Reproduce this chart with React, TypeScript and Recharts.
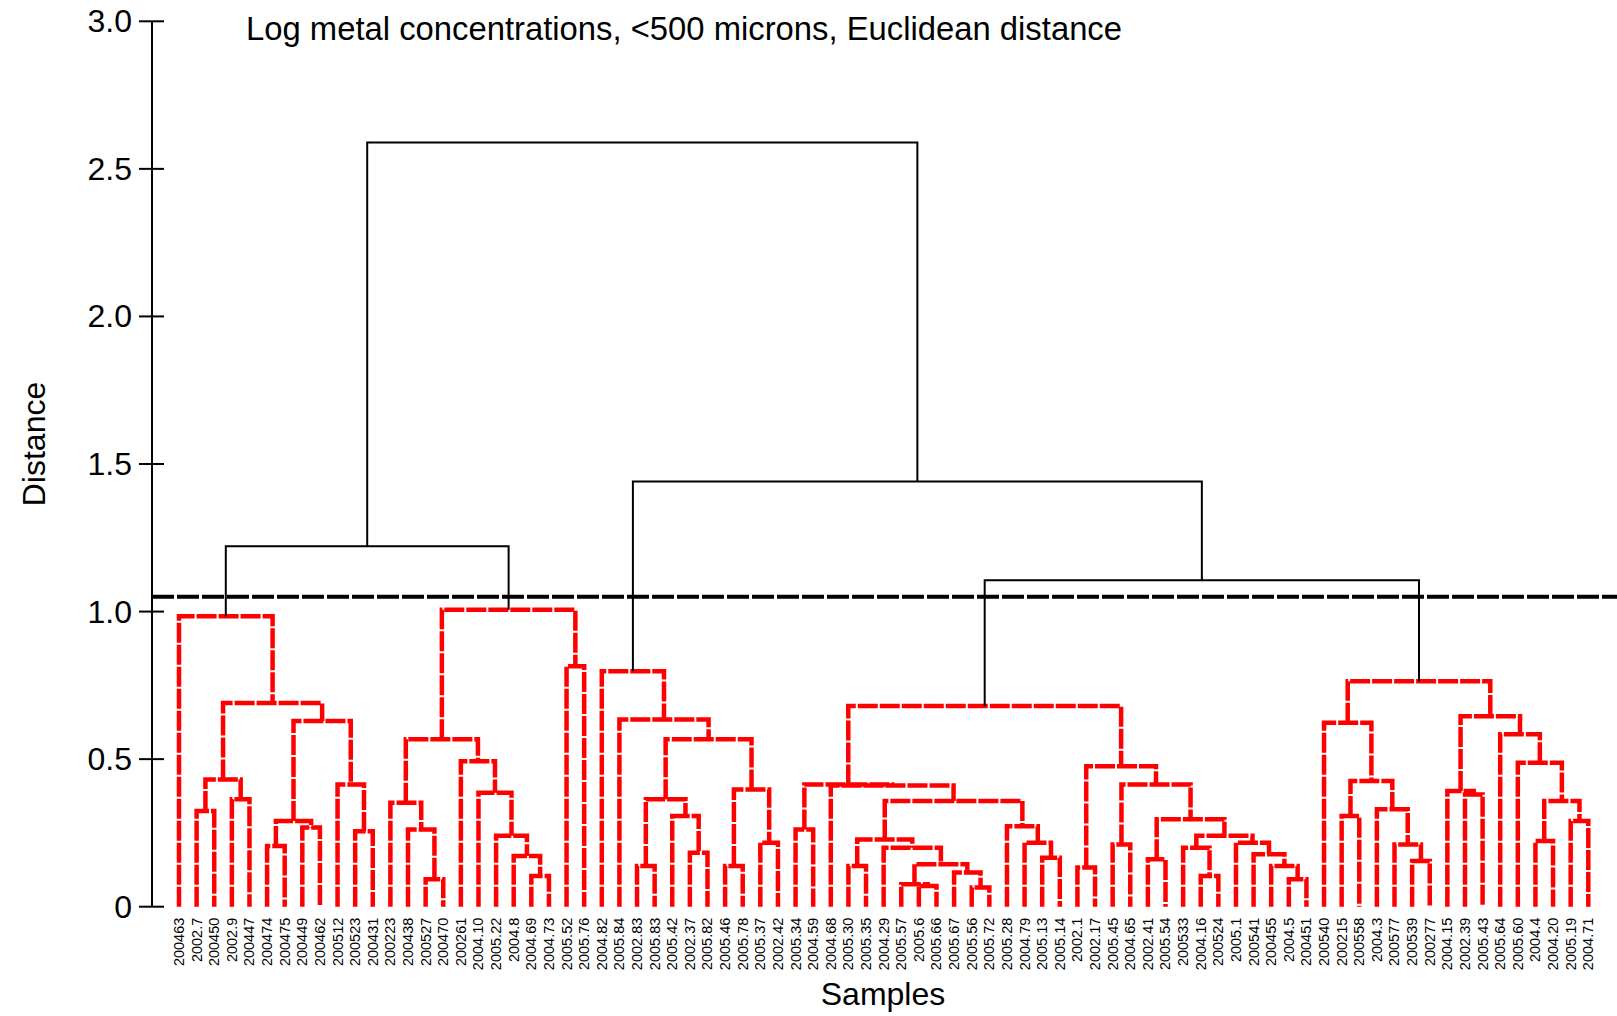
import { Line, LineChart, ReferenceLine, XAxis, YAxis } from "recharts";

// Sample ids along the bottom, in dendrogram leaf order
const leafLabels = [
  "200463", "2002.7", "200450", "2002.9", "200447", "200474", "200475", "200449",
  "200462", "200512", "200523", "200431", "200223", "200438", "200527", "200470",
  "200261", "2004.10", "2005.22", "2004.8", "2004.69", "2004.73", "2005.52", "2005.76",
  "2004.82", "2005.84", "2002.83", "2005.83", "2005.42", "2002.37", "2005.82", "2005.46",
  "2005.78", "2005.37", "2002.42", "2005.34", "2004.59", "2004.68", "2005.30", "2005.35",
  "2004.29", "2005.57", "2005.6", "2005.66", "2005.67", "2005.56", "2005.72", "2005.28",
  "2004.79", "2005.13", "2005.14", "2002.1", "2002.17", "2005.45", "2004.65", "2002.41",
  "2005.54", "200533", "2004.16", "200524", "2005.1", "200541", "200455", "2004.5",
  "200451", "200540", "200215", "200558", "2004.3", "200577", "200539", "200277",
  "2004.15", "2002.39", "2005.43", "2005.64", "2005.60", "2004.4", "2004.20", "2005.19",
  "2004.71",
];

// Linkage: [left, right, distance]. Ids below 81 are leaves, id 81 + k is merge k.
const merges: [number, number, number][] = [
  [1, 2, 0.324], [3, 4, 0.364], [81, 82, 0.431], [5, 6, 0.206], [7, 8, 0.268],
  [84, 85, 0.29], [10, 11, 0.256], [9, 87, 0.414], [86, 88, 0.629], [83, 89, 0.69],
  [0, 90, 0.984],
  [14, 15, 0.093], [13, 92, 0.262], [12, 93, 0.352], [20, 21, 0.104], [19, 95, 0.172],
  [18, 96, 0.24], [17, 97, 0.386], [16, 98, 0.493], [94, 99, 0.567], [22, 23, 0.815],
  [100, 101, 1.006], [91, 102, 1.221],
  [26, 27, 0.138], [29, 30, 0.183], [28, 105, 0.307], [104, 106, 0.364], [31, 32, 0.138],
  [33, 34, 0.217], [108, 109, 0.397], [107, 110, 0.567], [25, 111, 0.634], [24, 112, 0.798],
  [35, 36, 0.262], [38, 39, 0.138], [42, 43, 0.07], [41, 116, 0.076], [45, 46, 0.065],
  [44, 118, 0.116], [117, 119, 0.144], [40, 120, 0.2], [115, 121, 0.228], [49, 50, 0.166],
  [48, 123, 0.217], [47, 124, 0.273], [122, 125, 0.358], [37, 126, 0.411], [114, 127, 0.414],
  [51, 52, 0.133], [53, 54, 0.211], [55, 56, 0.161], [58, 59, 0.104], [57, 132, 0.2],
  [63, 64, 0.093], [62, 134, 0.138], [61, 135, 0.178], [60, 136, 0.217], [133, 137, 0.24],
  [131, 138, 0.296], [130, 139, 0.414], [129, 140, 0.476], [128, 141, 0.68],
  [66, 67, 0.307], [70, 71, 0.155], [69, 144, 0.211], [68, 145, 0.33], [143, 146, 0.426],
  [65, 147, 0.623], [73, 74, 0.38], [72, 149, 0.392], [77, 78, 0.223], [79, 80, 0.29],
  [151, 152, 0.358], [76, 153, 0.488], [75, 154, 0.584], [150, 155, 0.645], [148, 156, 0.764],
  [142, 157, 1.106], [113, 158, 1.441], [103, 159, 2.589],
];

const cutDistance = 1.05;
const yTicks = [0, 0.5, 1, 1.5, 2, 2.5, 3];
const yTickLabels = ["0", "0.5", "1.0", "1.5", "2.0", "2.5", "3.0"];

type Pt = { x: number; y: number | null };

// Walk the linkage and turn each merge into a U-shaped polyline;
// a null point breaks the line between merges.
function buildLinks() {
  const pos = leafLabels.map((_, i) => i);
  const dist = leafLabels.map(() => 0);
  const below: Pt[] = [];
  const above: Pt[] = [];
  for (const [a, b, h] of merges) {
    const xa = pos[a];
    const xb = pos[b];
    const seg: Pt[] = [
      { x: xa, y: dist[a] },
      { x: xa, y: h },
      { x: xb, y: h },
      { x: xb, y: dist[b] },
      { x: xb, y: null },
    ];
    (h < cutDistance ? below : above).push(...seg);
    pos.push((xa + xb) / 2);
    dist.push(h);
  }
  return { below, above };
}

const { below, above } = buildLinks();
const leafTicks = leafLabels.map((_, i) => i);

const FONT = "'Liberation Sans', Arial, sans-serif";

function LeafTick({ x, y, payload }: any) {
  const ty = y + 11;
  return (
    <text
      x={x}
      y={ty}
      transform={`rotate(-90, ${x}, ${ty})`}
      textAnchor="end"
      dominantBaseline="central"
      fontSize={14.5}
      fill="#000"
    >
      {leafLabels[payload.value]}
    </text>
  );
}

function DistanceTick({ x, y, payload }: any) {
  const idx = yTicks.indexOf(payload.value);
  return (
    <g>
      <line x1={x - 13} x2={x + 12} y1={y} y2={y} stroke="#000" strokeWidth={2} />
      <text
        x={x - 20}
        y={y}
        textAnchor="end"
        dominantBaseline="central"
        fontSize={32}
        fill="#000"
      >
        {yTickLabels[idx]}
      </text>
    </g>
  );
}

export default function App() {
  return (
    <div
      style={{
        position: "absolute",
        left: 0,
        top: 0,
        width: 1617,
        height: 1016,
        background: "#fff",
        fontFamily: FONT,
      }}
    >
      <LineChart
        width={1617}
        height={1016}
        margin={{ top: 21.3, right: 0, bottom: 0, left: 0 }}
      >
        <XAxis
          type="number"
          dataKey="x"
          domain={[-1.533, 81.63]}
          ticks={leafTicks}
          interval={0}
          allowDataOverflow
          axisLine={false}
          tickLine={false}
          tickSize={0}
          tickMargin={0}
          height={109.3}
          tick={<LeafTick />}
        />
        <YAxis
          type="number"
          domain={[0, 3]}
          ticks={yTicks}
          interval={0}
          width={152}
          axisLine={{ stroke: "#000", strokeWidth: 2 }}
          tickLine={false}
          tickSize={0}
          tickMargin={0}
          tick={<DistanceTick />}
        />
        <ReferenceLine
          y={cutDistance}
          stroke="#000"
          strokeWidth={4}
          strokeDasharray="22 3"
        />
        <Line
          data={below}
          dataKey="y"
          type="linear"
          stroke="#ff0000"
          strokeWidth={4.5}
          strokeDasharray="20 2"
          dot={false}
          activeDot={false}
          connectNulls={false}
          isAnimationActive={false}
        />
        <Line
          data={above}
          dataKey="y"
          type="linear"
          stroke="#000"
          strokeWidth={2}
          dot={false}
          activeDot={false}
          connectNulls={false}
          isAnimationActive={false}
        />
        <text x={246} y={40} fontSize={32.8} fill="#000">
          Log metal concentrations, &lt;500 microns, Euclidean distance
        </text>
        <text
          x={45}
          y={444}
          transform="rotate(-90, 45, 444)"
          textAnchor="middle"
          fontSize={32}
          fill="#000"
        >
          Distance
        </text>
        <text x={883} y={1005} textAnchor="middle" fontSize={32} fill="#000">
          Samples
        </text>
      </LineChart>
    </div>
  );
}
